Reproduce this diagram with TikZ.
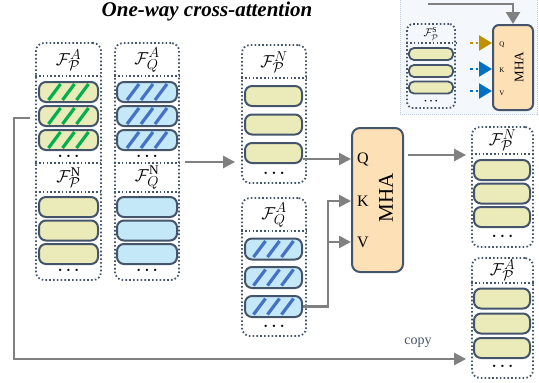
\documentclass[tikz,border=0pt]{standalone}
\usepackage{fontspec}
\setmainfont{Liberation Serif}
\usetikzlibrary{arrows.meta,calc}
\definecolor{bord}{HTML}{44546A}
\definecolor{yfill}{HTML}{EBEBBA}
\definecolor{bfill}{HTML}{C4E8F8}
\definecolor{ghatch}{HTML}{00B050}
\definecolor{bhatch}{HTML}{4472C4}
\definecolor{peach}{HTML}{FDE0B6}
\definecolor{arrgray}{HTML}{808080}
\definecolor{insetbg}{HTML}{F4F7FB}
\definecolor{insetbd}{HTML}{B4C3D6}
\definecolor{goldarr}{HTML}{BF9000}
\definecolor{bluearr}{HTML}{0070C0}
\newcommand{\threedots}{\textbullet\hspace{5pt}\textbullet\hspace{5pt}\textbullet}
\begin{document}
\begin{tikzpicture}[x=1pt,y=-1pt,
  colbox/.style={draw=bord, line width=1.8pt, dash pattern=on 1.6pt off 2.2pt, rounded corners=8pt, inner sep=0pt},
  sepline/.style={draw=bord, line width=1.8pt, dash pattern=on 1.6pt off 2.2pt},
  ybar/.style={draw=bord, line width=2pt, fill=yfill, rounded corners=7pt, minimum height=20pt, inner sep=0pt},
  bbar/.style={ybar, fill=bfill},
  gstroke/.style={draw=ghatch, line width=3.2pt},
  bstroke/.style={draw=bhatch, line width=3.2pt},
  garrow/.style={draw=arrgray, line width=2.5pt, -{Triangle[length=12pt,width=12pt]}},
  lab/.style={font=\fontsize{19}{19}\selectfont, inner sep=0pt},
  dotsl/.style={font=\fontsize{9.5}{9.5}\selectfont, inner sep=0pt},
  mhabox/.style={draw=bord, line width=2pt, fill=peach, rounded corners=8pt, inner sep=0pt},
  qkv/.style={font=\fontsize{16}{16}\selectfont, inner sep=0pt},
]
\useasboundingbox (0,0) rectangle (539,383);

% title
\node[font=\fontsize{21}{21}\selectfont\bfseries\itshape, inner sep=0pt, anchor=base] (title) at (207,16) {One-way cross-attention};

% inset
\node[draw=insetbg!20!insetbd, fill=insetbg, line width=1pt, dash pattern=on 1pt off 1pt, minimum width=137pt, minimum height=116pt, inner sep=0pt] (inset) at (468.5,56) {};
\node[mhabox, rounded corners=6pt, minimum width=40pt, minimum height=85pt] (smha) at (513,67.5) {};
\node[font=\fontsize{13}{13}\selectfont, rotate=90, inner sep=0pt] (smhat) at (519,67) {MHA};
\node[font=\fontsize{7}{7}\selectfont, inner sep=0pt] (sq) at (502,45) {Q};
\node[font=\fontsize{7}{7}\selectfont, inner sep=0pt] (sk) at (502,70) {K};
\node[font=\fontsize{7}{7}\selectfont, inner sep=0pt] (sv) at (502,93) {V};
\node[colbox, rounded corners=6pt, minimum width=48pt, minimum height=84pt] (sc) at (431,66) {};
\draw[sepline] (sc.west |- 0,43) -- (sc.east |- 0,43);
\node[font=\fontsize{11}{11}\selectfont, inner sep=0pt] (scl) at (431,34) {$\mathcal{F}_{\mathcal{P}}^{\mathrm{S}}$};
\node[ybar, rounded corners=5pt, line width=1.8pt, minimum width=44pt, minimum height=12pt] (sb1) at (431,54) {};
\node[ybar, rounded corners=5pt, line width=1.8pt, minimum width=44pt, minimum height=12pt] (sb2) at (431,71) {};
\node[ybar, rounded corners=5pt, line width=1.8pt, minimum width=44pt, minimum height=12pt] (sb3) at (431,87.5) {};
\node[dotsl, font=\fontsize{7}{7}\selectfont] (sd) at (431,102) {\textbullet\hspace{3pt}\textbullet\hspace{3pt}\textbullet};
\coordinate (sin) at (428,4);
\draw[garrow, -{Triangle[length=12pt,width=14pt]}] (sin) -- (smha.north |- sin) -- (smha.north);
\coordinate (sqs) at (470,43);
\coordinate (sks) at (470,69);
\coordinate (svs) at (470,91);
\draw[draw=goldarr, line width=2.5pt, dash pattern=on 2.5pt off 3pt, -{Triangle[length=13pt,width=15pt]}] (sqs) -- (smha.west |- sqs);
\draw[draw=bluearr, line width=2.5pt, dash pattern=on 2.5pt off 3pt, -{Triangle[length=13pt,width=15pt]}] (sks) -- (smha.west |- sks);
\draw[draw=bluearr, line width=2.5pt, dash pattern=on 2.5pt off 3pt, -{Triangle[length=13pt,width=15pt]}] (svs) -- (smha.west |- svs);

% column 1
\node[colbox, minimum width=65pt, minimum height=237pt] (c1) at (68.5,161.5) {};
\draw[sepline] (c1.west |- 0,76) -- (c1.east |- 0,76);
\draw[sepline] (c1.west |- 0,163) -- (c1.east |- 0,163);
\draw[sepline] (c1.west |- 0,192) -- (c1.east |- 0,192);
\node[lab] (c1l1) at (68.5,60) {$\mathcal{F}_{\mathcal{P}}^{A}$};
\node[lab] (c1l2) at (68.5,177.5) {$\mathcal{F}_{\mathcal{P}}^{\mathrm{N}}$};
\node[ybar, minimum width=59pt] (a1) at (68.5,92) {};
\node[ybar, minimum width=59pt] (a2) at (68.5,116) {};
\node[ybar, minimum width=59pt] (a3) at (68.5,140) {};
\node[dotsl] (c1d1) at (68.5,157) {\threedots};
\node[ybar, minimum width=59pt] (a4) at (68.5,207) {};
\node[ybar, minimum width=59pt] (a5) at (68.5,230.5) {};
\node[ybar, minimum width=59pt] (a6) at (68.5,254) {};
\node[dotsl] (c1d2) at (68.5,271) {\threedots};

% column 2
\node[colbox, minimum width=64pt, minimum height=237pt] (c2) at (147,161.5) {};
\draw[sepline] (c2.west |- 0,76) -- (c2.east |- 0,76);
\draw[sepline] (c2.west |- 0,163) -- (c2.east |- 0,163);
\draw[sepline] (c2.west |- 0,192) -- (c2.east |- 0,192);
\node[lab] (c2l1) at (147,60) {$\mathcal{F}_{Q}^{A}$};
\node[lab] (c2l2) at (147,177.5) {$\mathcal{F}_{Q}^{\mathrm{N}}$};
\node[bbar, minimum width=60pt] (b1) at (147,92) {};
\node[bbar, minimum width=60pt] (b2) at (147,116) {};
\node[bbar, minimum width=60pt] (b3) at (147,140) {};
\node[dotsl] (c2d1) at (147,157) {\threedots};
\node[bbar, minimum width=60pt] (b4) at (147,207) {};
\node[bbar, minimum width=60pt] (b5) at (147,230.5) {};
\node[bbar, minimum width=60pt] (b6) at (147,254) {};
\node[dotsl] (c2d2) at (147,271) {\threedots};

% column 3
\node[colbox, minimum width=64pt, minimum height=138pt] (c3) at (274,114) {};
\draw[sepline] (c3.west |- 0,78) -- (c3.east |- 0,78);
\node[lab] (c3l) at (274,62) {$\mathcal{F}_{\mathcal{P}}^{N}$};
\node[ybar, minimum width=57pt] (p1) at (273.5,96) {};
\node[ybar, minimum width=57pt] (p2) at (273.5,124.5) {};
\node[ybar, minimum width=57pt] (p3) at (273.5,153) {};
\node[dotsl] (c3d) at (274,174) {\threedots};

% column 4
\node[colbox, minimum width=64pt, minimum height=138pt] (c4) at (274,267) {};
\draw[sepline] (c4.west |- 0,231) -- (c4.east |- 0,231);
\node[lab] (c4l) at (274,215) {$\mathcal{F}_{Q}^{A}$};
\node[bbar, minimum width=57pt, minimum height=21pt] (q1) at (273.5,249) {};
\node[bbar, minimum width=57pt, minimum height=21pt] (q2) at (273.5,277.5) {};
\node[bbar, minimum width=57pt, minimum height=21pt] (q3) at (273.5,306.5) {};
\node[dotsl] (c4d) at (274,327) {\threedots};

% hatching
\foreach \n in {a1,a2,a3} \foreach \dx in {-14,0,14}
  \draw[gstroke] ($(\n)+(\dx-6,8)$) -- ($(\n)+(\dx+6,-8)$);
\foreach \n in {b1,b2,b3,q1,q2,q3} \foreach \dx in {-14,0,14}
  \draw[bstroke] ($(\n)+(\dx-6,8)$) -- ($(\n)+(\dx+6,-8)$);

% MHA
\node[mhabox, minimum width=51pt, minimum height=144pt] (mha) at (377.5,200) {};
\node[font=\fontsize{21}{21}\selectfont, rotate=90, inner sep=0pt] (mhat) at (386,198) {MHA};
\node[qkv] (lq) at (363,159) {Q};
\node[qkv] (lk) at (363,201) {K};
\node[qkv] (lv) at (363,242) {V};

% column 5
\node[colbox, minimum width=61pt, minimum height=120pt] (c5) at (502.5,187) {};
\draw[sepline] (c5.west |- 0,154) -- (c5.east |- 0,154);
\node[lab] (c5l) at (502.5,140) {$\mathcal{F}_{\mathcal{P}}^{N}$};
\node[ybar, minimum width=56pt] (r1) at (502,170) {};
\node[ybar, minimum width=56pt] (r2) at (502,193.5) {};
\node[ybar, minimum width=56pt] (r3) at (502,217) {};
\node[dotsl] (c5d) at (502.5,237) {\threedots};

% column 6
\node[colbox, minimum width=61pt, minimum height=120pt] (c6) at (502.5,318) {};
\draw[sepline] (c6.west |- 0,283) -- (c6.east |- 0,283);
\node[lab] (c6l) at (502.5,270) {$\mathcal{F}_{\mathcal{P}}^{A}$};
\node[ybar, minimum width=56pt] (s1) at (502,298.5) {};
\node[ybar, minimum width=56pt] (s2) at (502,323.5) {};
\node[ybar, minimum width=56pt] (s3) at (502,348) {};
\node[dotsl] (c6d) at (502.5,367) {\threedots};

% connectors
\coordinate (a1s) at (185,162);
\draw[garrow, shorten >=6pt] (a1s) -- (c3.west |- a1s);
\draw[garrow] (p3.east |- 0,159) -- (mha.west |- 0,159);
\coordinate (kvj) at (328,306.5);
\draw[garrow] (q3.east) -- (kvj) -- (kvj |- 0,201) -- (mha.west |- 0,201);
\draw[garrow] (kvj |- 0,242) -- (mha.west |- 0,242);
\draw[garrow, shorten >=5pt] ($(mha.east |- 0,155)+(4,0)$) -- (c5.west |- 0,155);
\coordinate (cps) at (30,118);
\coordinate (cpc) at (14,359);
\draw[garrow, shorten >=5pt] (cps) -- (cpc |- cps) -- (cpc) -- (c6.west |- cpc);
\node[font=\fontsize{14}{14}\selectfont, text=bord, inner sep=0pt] (copy) at (418,343) {copy};
\end{tikzpicture}
\end{document}
